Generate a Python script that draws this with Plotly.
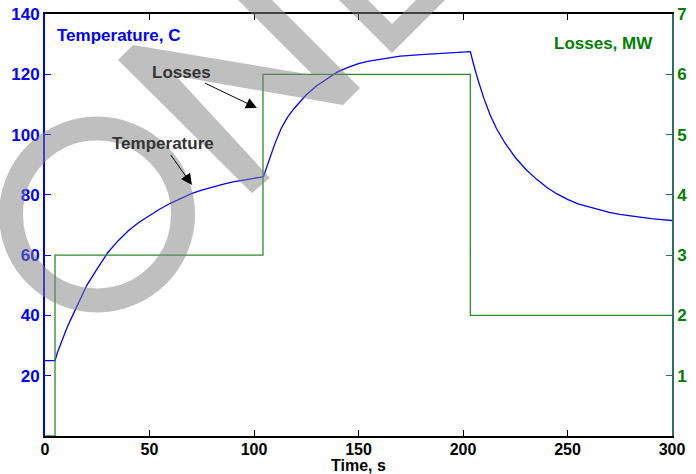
import plotly.graph_objects as go

# ---------------- data ----------------
temp_time = [0, 4.8, 6, 8, 10, 12, 15, 18, 20, 25, 30, 35, 40, 45, 50, 55, 60, 65, 70, 75, 80, 85, 90, 95, 100, 104.5,
             106, 108, 110, 113, 116, 119, 122, 125, 130, 135, 140, 145, 150, 155, 160, 170, 180, 190, 200, 203.5,
             205, 207, 210, 213, 216, 220, 225, 230, 235, 240, 245, 250, 255, 260, 265, 270, 275, 280, 285, 290, 295, 300]
temp_vals = [25, 25, 27.8, 31.6, 35, 38.2, 42.8, 47.2, 50, 55.5, 60.8, 64.8, 68.2, 70.9, 73.2, 75.3, 77.2, 78.9, 80.4, 81.6, 82.6, 83.5, 84.3, 85, 85.5, 86,
             89, 93, 97, 102, 105.7, 108.5, 111, 113.2, 116.2, 118.6, 120.8, 122.3, 123.5, 124.4, 125, 126, 126.5, 127, 127.3, 127.5,
             123.5, 118.5, 112, 106.5, 102, 97.3, 92.4, 88.5, 85.3, 82.5, 80.3, 78.5, 77, 76, 75, 74.2, 73.5, 73, 72.5, 72.1, 71.8, 71.5]

loss_time = [0, 4.8, 104.3, 203.5, 300]
loss_vals = [0, 3, 6, 2, 2]

x_ticks = [0, 50, 100, 150, 200, 250, 300]
y_left_ticks = [20, 40, 60, 80, 100, 120, 140]
y_right_ticks = [1, 2, 3, 4, 5, 6, 7]

# ---------------- layout geometry ----------------
W, H = 696, 474
ML, MR, MT, MB = 45, 24, 14, 38
PW, PH = W - ML - MR, H - MT - MB


def px(x):
    return (x - ML) / PW


def py(y):
    return (H - MB - y) / PH


FONT = "Liberation Sans, Arial, Helvetica, sans-serif"
BLUE = "#0000ff"
GREEN = "#008000"
TEAL = "#2a6e66"

fig = go.Figure()
fig.add_trace(go.Scatter(x=temp_time, y=temp_vals, mode="lines",
                         line=dict(color=BLUE, width=1.3), yaxis="y", showlegend=False))
fig.add_trace(go.Scatter(x=loss_time, y=loss_vals, mode="lines", line_shape="hv",
                         line=dict(color="#2e8b2e", width=1.3), yaxis="y2", showlegend=False,
                         cliponaxis=False))

bold17 = dict(family=FONT, size=17, weight="bold")
bold16 = dict(family=FONT, size=16, weight="bold")

fig.update_layout(
    width=W, height=H, autosize=False,
    margin=dict(l=ML, r=MR, t=MT, b=MB, pad=0, autoexpand=False),
    paper_bgcolor="white", plot_bgcolor="white",
    xaxis=dict(range=[0, 300], tickvals=x_ticks, ticks="inside", ticklen=6, tickwidth=1,
               tickcolor="black", showline=True, linecolor="black", linewidth=1.5,
               mirror="ticks", showgrid=False, zeroline=False, ticklabelstandoff=-2,
               tickfont=dict(color="black", **bold16)),
    yaxis=dict(range=[0, 140], tickvals=y_left_ticks, ticks="inside", ticklen=6, tickwidth=1,
               tickcolor=BLUE, showline=True, linecolor=BLUE, linewidth=2,
               showgrid=False, zeroline=False, tickfont=dict(color=BLUE, **bold17)),
    yaxis2=dict(range=[0, 7], tickvals=y_right_ticks, overlaying="y", side="right",
                ticks="inside", ticklen=6, tickwidth=1, tickcolor=TEAL, showline=True,
                linecolor=TEAL, linewidth=1.5, showgrid=False, zeroline=False,
                tickfont=dict(color=GREEN, **bold17)),
)

ann = []
ann.append(dict(text="Temperature, C", x=px(55), y=py(36), xref="paper", yref="paper",
                xanchor="left", yanchor="middle", showarrow=False, font=dict(color=BLUE, **bold17)))
ann.append(dict(text="Losses, MW", x=px(655), y=py(43), xref="paper", yref="paper",
                xanchor="right", yanchor="middle", showarrow=False, font=dict(color=GREEN, **bold17)))
ann.append(dict(text="Time, s", x=0.5, y=py(465), xref="paper", yref="paper",
                xanchor="center", yanchor="middle", showarrow=False,
                font=dict(color="black", **bold16)))
ann.append(dict(text="Losses", x=101.4, y=108.8, xref="x", yref="y", ax=-75, ay=-36,
                showarrow=True, arrowhead=2, arrowsize=2.2, arrowwidth=1, arrowcolor="black",
                font=dict(color="#333333", **bold17)))
ann.append(dict(text="Temperature", x=70.3, y=83.3, xref="x", yref="y", ax=-29, ay=-41,
                showarrow=True, arrowhead=2, arrowsize=2.2, arrowwidth=1, arrowcolor="black",
                font=dict(color="#333333", **bold17)))
fig.update_layout(annotations=ann)

# ---------------- watermark ----------------
WM = "rgba(128,128,128,0.5)"


def poly(points):
    return "M " + " L ".join(f"{px(a):.5f},{py(b):.5f}" for a, b in points) + " Z"


n_shape = [(118, 60), (133, 45), (313, 75), (208, -30), (242, -30), (360, 88), (343, 105),
           (176, 76), (270, 178), (252, 193)]
l_shape = [(299, -40), (392, 53), (485, -40), (456, -40), (392, 24), (328, -40)]

shapes = [
    dict(type="circle", xref="paper", yref="paper", x0=px(11), x1=px(183), y0=py(300.5), y1=py(128.5),
         line=dict(color=WM, width=24), fillcolor="rgba(0,0,0,0)", layer="above"),
    dict(type="path", xref="paper", yref="paper", path=poly(n_shape), fillcolor=WM,
         line=dict(width=0), layer="above"),
    dict(type="path", xref="paper", yref="paper", path=poly(l_shape), fillcolor=WM,
         line=dict(width=0), layer="above"),
]
fig.update_layout(shapes=shapes)

fig.write_html("out.html", config={"displayModeBar": False},
               post_script="document.body.style.margin='0';document.body.style.overflow='hidden';")
